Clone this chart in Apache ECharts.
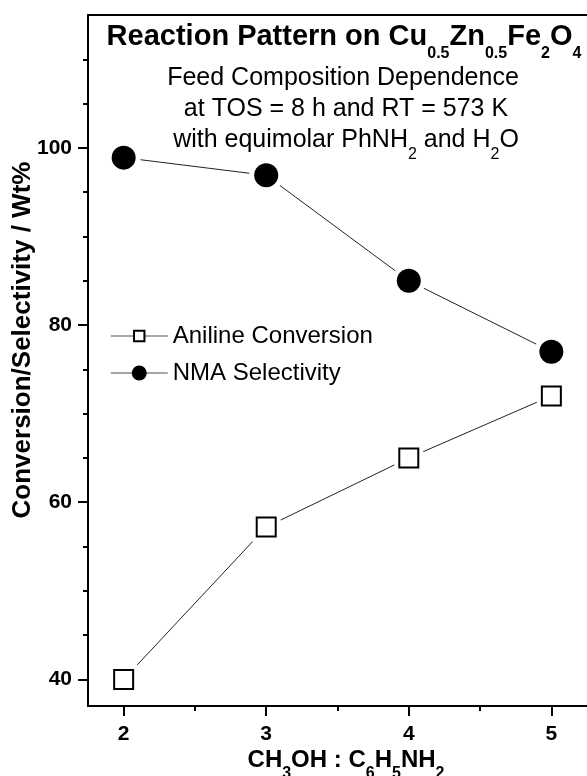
<!DOCTYPE html>
<html>
<head>
<meta charset="utf-8">
<script src="https://cdn.jsdelivr.net/npm/echarts@6/dist/echarts.min.js"></script>
<style>
  html, body { margin: 0; padding: 0; background: #fff; }
  #chart { width: 587px; height: 776px; }
</style>
</head>
<body>
<div id="chart"></div>
<script>
// ratio CH3OH : C6H5NH2
const ratios = [2, 3, 4, 5];
// Wt%
const anilineConversion = [40, 57.2, 65, 72];
const nmaSelectivity = [98.9, 96.9, 85, 77];

const xMajorTicks = [2, 3, 4, 5];
const xMinorTicks = [2.5, 3.5, 4.5];
const yMajorTicks = [40, 60, 80, 100];
const yMinorTicks = [45, 50, 55, 65, 70, 75, 85, 90, 95, 105, 110];

const FONT = 'Liberation Sans';

function pairs(ys) {
  return ratios.map((x, i) => [x, ys[i]]);
}

const chart = echarts.init(document.getElementById('chart'));

const axisLine = { show: true, lineStyle: { color: '#000', width: 2 } };
const tickStyle = { color: '#000', width: 2 };

const option = {
  backgroundColor: '#fff',
  animation: false,
  grid: { left: 88, right: -7, top: 15, bottom: 70 },
  xAxis: [
    {
      type: 'value', min: 1.75, max: 5.25, position: 'bottom',
      axisLine: axisLine,
      axisTick: { show: true, length: 10, lineStyle: tickStyle, customValues: xMajorTicks },
      axisLabel: {
        customValues: xMajorTicks, margin: 18,
        color: '#000', fontFamily: FONT, fontWeight: 'bold', fontSize: 21
      },
      splitLine: { show: false }
    },
    {
      type: 'value', min: 1.75, max: 5.25, position: 'bottom',
      axisLine: { show: false },
      axisTick: { show: true, length: 5, lineStyle: tickStyle, customValues: xMinorTicks },
      axisLabel: { show: false },
      splitLine: { show: false }
    },
    {
      type: 'value', min: 1.75, max: 5.25, position: 'top',
      axisLine: axisLine,
      axisTick: { show: false },
      axisLabel: { show: false },
      splitLine: { show: false }
    }
  ],
  yAxis: [
    {
      type: 'value', min: 37, max: 115, position: 'left',
      axisLine: axisLine,
      axisTick: { show: true, length: 10, lineStyle: tickStyle, customValues: yMajorTicks },
      axisLabel: {
        customValues: yMajorTicks, margin: 16,
        color: '#000', fontFamily: FONT, fontWeight: 'bold', fontSize: 21
      },
      splitLine: { show: false }
    },
    {
      type: 'value', min: 37, max: 115, position: 'left',
      axisLine: { show: false },
      axisTick: { show: true, length: 5, lineStyle: tickStyle, customValues: yMinorTicks },
      axisLabel: { show: false },
      splitLine: { show: false }
    }
  ],
  legend: [
    {
      data: ['Aniline Conversion'],
      left: 110, top: 324, padding: 0,
      itemWidth: 57, itemHeight: 13,
      lineStyle: { color: '#888', width: 1.5 },
      textStyle: { color: '#000', fontFamily: FONT, fontSize: 24, lineHeight: 24 }
    },
    {
      data: ['NMA Selectivity'],
      left: 110, top: 361, padding: 0,
      itemWidth: 57, itemHeight: 18.75,
      lineStyle: { color: '#888', width: 1.5 },
      textStyle: { color: '#000', fontFamily: FONT, fontSize: 24, lineHeight: 24 }
    }
  ],
  series: [
    {
      name: 'Aniline Conversion', type: 'line', data: pairs(anilineConversion),
      symbol: 'emptyRect', symbolSize: 19, showSymbol: false, silent: true, z: 2,
      itemStyle: { color: '#000' },
      lineStyle: { color: '#222', width: 1 }
    },
    {
      name: 'NMA Selectivity', type: 'line', data: pairs(nmaSelectivity),
      symbol: 'circle', symbolSize: 24, showSymbol: false, silent: true, z: 2,
      itemStyle: { color: '#000' },
      lineStyle: { color: '#222', width: 1 }
    },
    // white halos that open a gap between line and marker
    {
      name: 'haloA', type: 'scatter', data: pairs(anilineConversion),
      symbol: 'rect', symbolSize: 29, silent: true, z: 3,
      itemStyle: { color: '#fff', opacity: 1 }
    },
    {
      name: 'haloB', type: 'scatter', data: pairs(nmaSelectivity),
      symbol: 'circle', symbolSize: 34, silent: true, z: 3,
      itemStyle: { color: '#fff', opacity: 1 }
    },
    {
      name: 'markA', type: 'scatter', data: pairs(anilineConversion),
      symbol: 'rect', symbolSize: 19, silent: true, z: 4,
      itemStyle: { color: '#fff', borderColor: '#000', borderWidth: 2, opacity: 1 }
    },
    {
      name: 'markB', type: 'scatter', data: pairs(nmaSelectivity),
      symbol: 'circle', symbolSize: 24, silent: true, z: 4,
      itemStyle: { color: '#000', opacity: 1 }
    }
  ],
  graphic: [
    {
      type: 'text', x: 344, y: 37, z: 10,
      style: {
        text: '{m|Reaction Pattern on Cu}{s|0.5}{m|Zn}{s|0.5}{m|Fe}{s|2}{m|O}{s|4}',
        align: 'center', verticalAlign: 'middle', fill: '#000',
        rich: {
          m: { fontFamily: FONT, fontWeight: 'bold', fontSize: 29, lineHeight: 50 },
          s: { fontFamily: FONT, fontWeight: 'bold', fontSize: 16, lineHeight: 16, verticalAlign: 'bottom' }
        }
      }
    },
    {
      type: 'text', x: 343, y: 78, z: 10,
      style: {
        text: 'Feed Composition Dependence', align: 'center', verticalAlign: 'middle',
        fill: '#000', fontFamily: FONT, fontSize: 25
      }
    },
    {
      type: 'text', x: 346, y: 109, z: 10,
      style: {
        text: 'at TOS = 8 h and RT = 573 K', align: 'center', verticalAlign: 'middle',
        fill: '#000', fontFamily: FONT, fontSize: 25
      }
    },
    {
      type: 'text', x: 346, y: 140, z: 10,
      style: {
        text: '{m|with equimolar PhNH}{s|2}{m| and H}{s|2}{m|O}',
        align: 'center', verticalAlign: 'middle', fill: '#000',
        rich: {
          m: { fontFamily: FONT, fontSize: 25, lineHeight: 46 },
          s: { fontFamily: FONT, fontSize: 16, lineHeight: 16, verticalAlign: 'bottom' }
        }
      }
    },
    {
      type: 'text', x: 346, y: 760, z: 10,
      style: {
        text: '{m|CH}{s|3}{m|OH : C}{s|6}{m|H}{s|5}{m|NH}{s|2}',
        align: 'center', verticalAlign: 'middle', fill: '#000',
        rich: {
          m: { fontFamily: FONT, fontWeight: 'bold', fontSize: 24, lineHeight: 43 },
          s: { fontFamily: FONT, fontWeight: 'bold', fontSize: 16, lineHeight: 16, verticalAlign: 'bottom' }
        }
      }
    },
    {
      type: 'text', x: 23, y: 340, rotation: Math.PI / 2, z: 10,
      style: {
        text: 'Conversion/Selectivity / Wt%', align: 'center', verticalAlign: 'middle',
        fill: '#000', fontFamily: FONT, fontWeight: 'bold', fontSize: 26
      }
    }
  ]
};

chart.setOption(option);
</script>
</body>
</html>
